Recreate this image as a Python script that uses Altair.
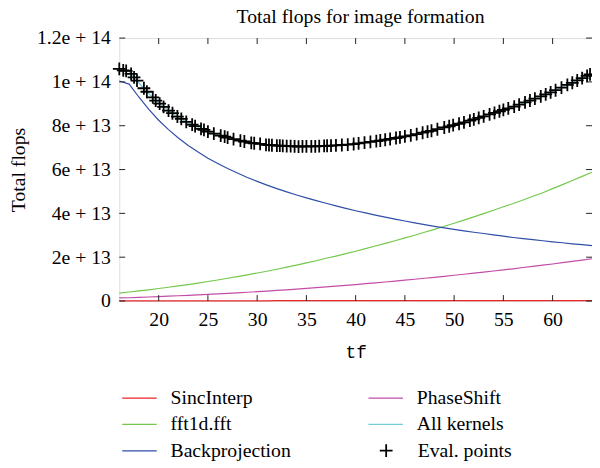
import altair as alt
import pandas as pd

# values in units of 1e12 flops
tf = list(range(16, 65))
sinc = [0.1] * 16 + [0.15] * 16 + [0.2] * 17
fft = [3.6, 4.1, 4.6, 5.1, 5.7, 6.3, 6.9, 7.5, 8.2, 8.9, 9.6, 10.4, 11.1, 11.9, 12.8, 13.6,
       14.5, 15.5, 16.4, 17.4, 18.4, 19.5, 20.5, 21.6, 22.7, 23.9, 25.1, 26.3, 27.5, 28.8,
       30.0, 31.4, 32.7, 34.1, 35.5, 36.9, 38.4, 39.9, 41.4, 43.0, 44.5, 46.1, 47.8, 49.4,
       51.3, 53.1, 55.0, 56.9, 58.8]
backproj = [100.4, 99.0, 93.0, 87.5, 82.5, 78.2, 74.4, 71.0, 68.0, 65.2, 62.8, 60.5, 58.4,
            56.4, 54.6, 52.9, 51.3, 49.8, 48.4, 47.1, 45.8, 44.6, 43.4, 42.3, 41.2, 40.2,
            39.2, 38.3, 37.4, 36.5, 35.7, 34.9, 34.1, 33.4, 32.7, 32.0, 31.4, 30.8, 30.2,
            29.6, 29.0, 28.5, 28.0, 27.5, 27.0, 26.6, 26.1, 25.7, 25.3]
phase = [1.4, 1.5, 1.7, 1.85, 2.0, 2.2, 2.4, 2.6, 2.8, 3.0, 3.25, 3.5, 3.75, 4.0, 4.25, 4.55,
         4.85, 5.12, 5.43, 5.76, 6.09, 6.43, 6.79, 7.15, 7.52, 7.9, 8.29, 8.69, 9.1, 9.52,
         9.95, 10.38, 10.83, 11.28, 11.75, 12.22, 12.71, 13.2, 13.7, 14.2, 14.7, 15.3, 15.8,
         16.4, 16.9, 17.5, 18.1, 18.7, 19.3]
allk = [105.6, 104.8, 99.5, 94.65, 90.4, 86.9, 83.9, 81.3, 79.2, 77.3, 75.85, 74.6, 73.45,
        72.5, 71.85, 71.25, 70.95, 70.72, 70.53, 70.56, 70.59, 70.83, 70.99, 71.35, 71.72,
        72.3, 72.89, 73.59, 74.3, 75.12, 75.95, 76.98, 78.03, 79.18, 80.35, 81.52, 82.91,
        84.3, 85.7, 87.2, 88.6, 90.3, 92.0, 93.7, 95.6, 97.6, 99.6, 101.7, 103.8]

eval_tf = [16.0, 16.4, 16.7, 17.2, 17.5, 17.8, 18.5, 18.8, 19.4, 19.7, 20.1, 20.5, 21.0, 21.4,
           21.9, 22.3, 22.8, 23.4, 23.7, 24.3, 24.6, 25.0, 25.6, 26.3, 26.7, 27.0, 27.6, 28.3,
           28.7, 29.4, 29.7, 30.3, 30.9, 31.2, 31.5, 32.0, 32.3, 32.6, 33.0, 33.4, 33.8, 34.2,
           34.6, 35.0, 35.5, 35.9, 36.3, 36.8, 37.1, 37.5, 38.0, 38.6, 39.2, 39.8, 40.3, 40.9,
           41.5, 42.1, 42.5, 43.0, 43.5, 44.1, 44.5, 45.0, 45.6, 46.2, 46.8, 47.3, 47.7, 48.3,
           49.0, 49.5, 49.9, 50.5, 51.0, 51.6, 52.0, 52.5, 53.0, 53.6, 54.1, 54.6, 55.0, 55.5,
           56.1, 56.6, 57.2, 57.7, 58.2, 58.8, 59.3, 59.8, 60.3, 60.9, 61.5, 62.0, 62.5, 63.0,
           63.5, 63.8]
eval_flops = [105.9, 105.3, 105.0, 103.7, 102.1, 100.6, 97.1, 95.5, 92.9, 91.5, 90.1, 88.6,
              86.9, 85.7, 84.2, 83.1, 81.8, 80.5, 79.8, 78.6, 78.1, 77.3, 76.4, 75.5, 75.0,
              74.6, 73.9, 73.2, 72.8, 72.2, 72.0, 71.7, 71.3, 71.2, 71.1, 70.95, 70.9, 70.8,
              70.7, 70.65, 70.55, 70.5, 70.55, 70.56, 70.57, 70.59, 70.65, 70.8, 70.85, 70.9,
              71.0, 71.2, 71.4, 71.65, 71.9, 72.25, 72.6, 72.95, 73.25, 73.6, 73.95, 74.4,
              74.7, 75.1, 75.6, 76.15, 76.8, 77.3, 77.7, 78.4, 79.2, 79.75, 80.25, 80.9, 81.5,
              82.35, 82.9, 83.6, 84.3, 85.15, 85.85, 86.6, 87.2, 87.9, 88.75, 89.6, 90.65, 91.5,
              92.35, 93.35, 94.3, 95.2, 96.2, 97.4, 98.6, 99.6, 100.65, 101.7, 102.75, 103.4]

x_ticks = [20, 25, 30, 35, 40, 45, 50, 55, 60]
y_ticks = [0, 20, 40, 60, 80, 100, 120]

series_names = ["SincInterp", "fft1d.fft", "Backprojection", "PhaseShift", "All kernels"]
series_values = [sinc, fft, backproj, phase, allk]
series_colors = ["#e8262a", "#74c84c", "#2f4fa8", "#c44ca8", "#74ccd8"]
eval_label = "Eval. points"

rows = []
for i, (name, vals) in enumerate(zip(series_names, series_values)):
    for t, v in zip(tf, vals):
        rows.append({"tf": t, "flops": v, "series": name, "order": i})
lines_df = pd.DataFrame(rows)
eval_df = pd.DataFrame({"tf": eval_tf, "flops": eval_flops, "kind": eval_label})

SERIF = "Liberation Serif"
PLUS = "M-1,0L1,0M0,-1L0,1"
W, H = 480, 267

color = alt.Color(
    "series:N",
    scale=alt.Scale(domain=series_names, range=series_colors),
    sort=series_names,
    legend=alt.Legend(
        title=None, orient="none", legendX=2, legendY=352, columns=2, columnPadding=77,
        rowPadding=0, clipHeight=26.5, symbolType="stroke", symbolSize=1225,
        symbolStrokeWidth=1.3, labelFont=SERIF, labelFontSize=20, labelColor="black",
        labelOffset=13, labelLimit=300, padding=0,
    ),
)
shape = alt.Shape(
    "kind:N",
    scale=alt.Scale(domain=[eval_label], range=[PLUS]),
    legend=alt.Legend(
        title=None, orient="none", legendX=261, legendY=409, symbolSize=169,
        symbolStrokeColor="black", symbolStrokeWidth=1.8, symbolFillColor="transparent",
        labelFont=SERIF, labelFontSize=20, labelColor="black", labelOffset=22, labelLimit=300,
        padding=0,
    ),
)

x_enc = alt.X("tf:Q", scale=alt.Scale(domain=[16, 64], nice=False, zero=False),
              axis=alt.Axis(values=x_ticks, tickSize=0, labelPadding=9, domain=False, grid=False,
                            labelFont=SERIF, labelFontSize=20, labelColor="black",
                            title="tf", titleFont="Liberation Mono", titleFontSize=18,
                            titleFontWeight="normal", titleColor="black", titleY=52,
                            titleBaseline="middle"))
y_enc = alt.Y("flops:Q", scale=alt.Scale(domain=[0, 120], nice=False),
              axis=alt.Axis(values=y_ticks, tickSize=0, labelPadding=9, domain=False, grid=False,
                            labelFont=SERIF, labelFontSize=20, labelColor="black",
                            labelExpr="datum.value == 0 ? '0' : datum.value == 120 ? '1.2e + 14' : datum.value == 100 ? '1e + 14' : (datum.value / 10) + 'e + 13'",
                            title="Total flops", titleFont=SERIF, titleFontSize=20,
                            titleFontWeight="normal", titleColor="black", titleX=-102,
                            titleY=H / 2, titleAngle=270, titleBaseline="middle",
                            titleAlign="center"))

lines = alt.Chart(lines_df).mark_line(strokeWidth=1.2).encode(
    x=x_enc, y=y_enc, color=color, detail="series:N", order="order:Q"
)
points = alt.Chart(eval_df).mark_point(size=169, filled=False, strokeWidth=1.8, opacity=1,
                                       color="black").encode(
    x="tf:Q", y="flops:Q", shape=shape
)

xt = alt.Chart(pd.DataFrame({"tf": x_ticks}))
yt = alt.Chart(pd.DataFrame({"flops": y_ticks}))
tick_style = dict(color="#222222", strokeWidth=1)
bottom_ticks = xt.mark_rule(**tick_style).encode(x="tf:Q", y=alt.value(H), y2=alt.value(H - 6))
top_ticks = xt.mark_rule(**tick_style).encode(x="tf:Q", y=alt.value(0), y2=alt.value(6))
left_ticks = yt.mark_rule(**tick_style).encode(y="flops:Q", x=alt.value(0), x2=alt.value(6))
right_ticks = yt.mark_rule(**tick_style).encode(y="flops:Q", x=alt.value(W), x2=alt.value(W - 6))

chart = alt.layer(
    lines, points, bottom_ticks, top_ticks, left_ticks, right_ticks
).properties(
    width=W, height=H,
    title=alt.TitleParams("Total flops for image formation", font=SERIF, fontSize=20,
                          fontWeight="normal", color="black", anchor="middle", offset=1, dx=5),
    autosize=alt.AutoSizeParams(type="none"),
    padding={"left": 113, "top": 27, "right": 0, "bottom": 165},
).configure_view(stroke="black", strokeWidth=1).configure(background="white")

chart.save("out.html", embed_options={"renderer": "svg", "actions": False})
